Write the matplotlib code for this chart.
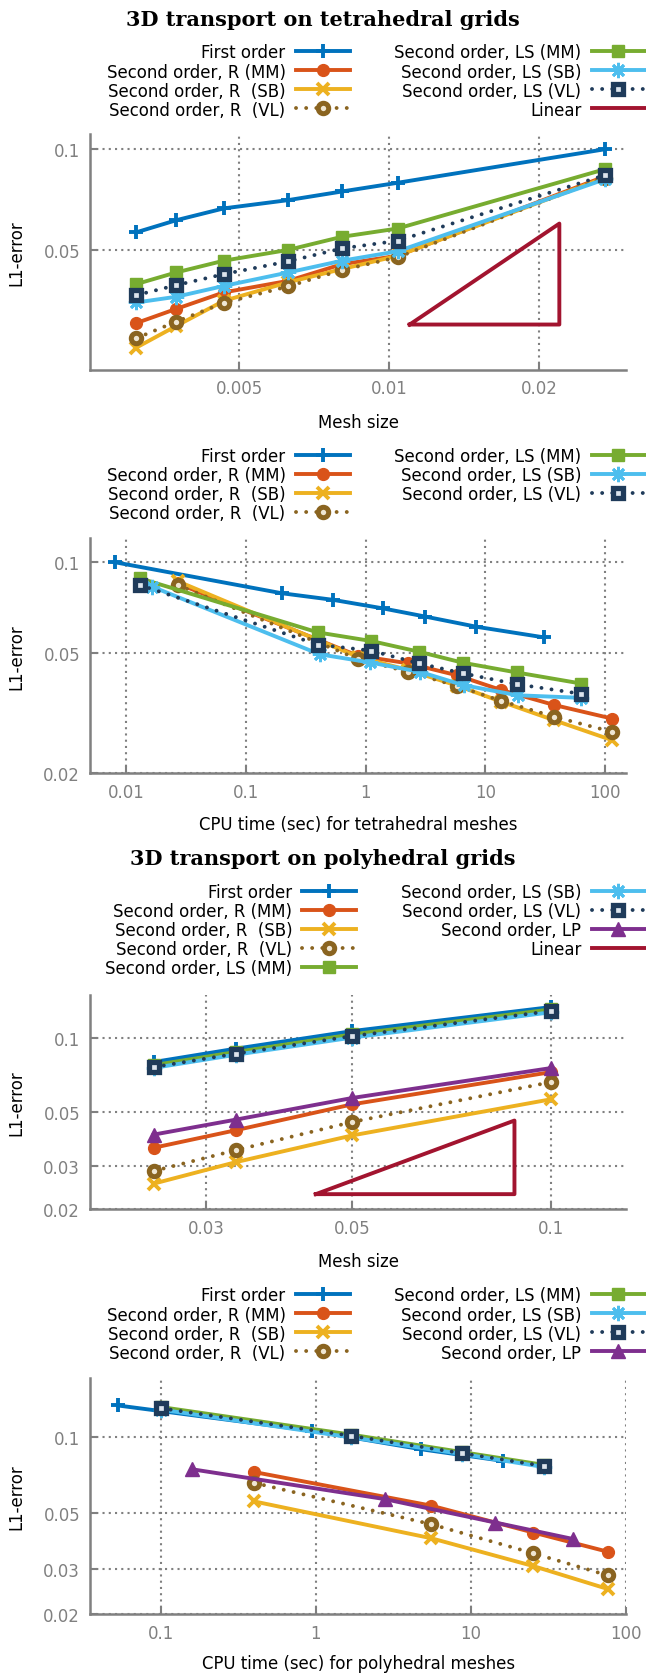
import matplotlib
matplotlib.use("Agg")
import matplotlib.pyplot as plt
import matplotlib.ticker as mticker
from matplotlib.font_manager import FontProperties

plt.rcParams['font.family'] = ['DejaVu Sans']
plt.rcParams['font.stretch'] = 'condensed'

# ---- colours (MATLAB-like palette used in the original) ----
c_first = '#0072BD'
c_rmm = '#D95319'
c_rsb = '#EDB120'
c_rvl = '#8A6420'
c_lsmm = '#77AC30'
c_lssb = '#4DBEEE'
c_lsvl = '#1F3B5A'
c_lp = '#7E2F8E'
c_lin = '#A2142F'

# ---- tetrahedral grids, error vs mesh size ----
tet_h = [0.0031, 0.00373, 0.00465, 0.00627, 0.00804, 0.0104, 0.0272]
tet_first = [0.0565, 0.0614, 0.0666, 0.0705, 0.0748, 0.0794, 0.100]
tet_rmm = [0.0303, 0.0334, 0.0374, 0.0405, 0.0454, 0.0481, 0.0830]
tet_rsb = [0.0256, 0.0297, 0.0353, 0.0401, 0.0439, 0.0481, 0.0823]
tet_rvl = [0.0273, 0.0306, 0.0348, 0.0390, 0.0436, 0.0476, 0.0823]
tet_lsmm = [0.0396, 0.0429, 0.0465, 0.0501, 0.0548, 0.0580, 0.0872]
tet_lssb = [0.0349, 0.0363, 0.0391, 0.0429, 0.0465, 0.0496, 0.0814]
tet_lsvl = [0.0367, 0.0393, 0.0424, 0.0463, 0.0506, 0.0533, 0.0837]
tet_lin_x = [0.011, 0.022, 0.022, 0.011]
tet_lin_y = [0.030, 0.030, 0.060, 0.030]

# ---- tetrahedral grids, error vs CPU time ----
tet_t_first = [0.00806, 0.1995, 0.537, 1.39, 3.16, 8.38, 31.0]
tet_t_r = [0.027, 0.86, 2.27, 5.77, 13.5, 37.7, 114.0]
tet_t_ls = [0.013, 0.40, 1.11, 2.78, 6.5, 18.2, 63.0]
tet_t_lssb = [0.0165, 0.414, 1.09, 2.84, 6.57, 18.6, 62.7]
tet_c_first = [0.100, 0.0789, 0.0750, 0.0703, 0.0660, 0.0611, 0.0563]
tet_c_rmm = [0.0850, 0.0490, 0.0462, 0.0422, 0.0377, 0.0336, 0.0303]
tet_c_rsb = [0.0865, 0.0486, 0.0439, 0.0390, 0.0345, 0.0299, 0.0257]
tet_c_rvl = [0.0840, 0.0478, 0.0433, 0.0389, 0.0347, 0.0307, 0.0274]
tet_c_lsmm = [0.0885, 0.0585, 0.0548, 0.0505, 0.0464, 0.0431, 0.0396]
tet_c_lssb = [0.0830, 0.0495, 0.0465, 0.0433, 0.0391, 0.0362, 0.0355]
tet_c_lsvl = [0.0841, 0.0533, 0.0509, 0.0462, 0.0428, 0.0394, 0.0366]

# ---- polyhedral grids, error vs mesh size ----
pol_h = [0.025, 0.0333, 0.05, 0.1]
pol_first = [0.0798, 0.0905, 0.1068, 0.1339]
pol_rmm = [0.0356, 0.0420, 0.0536, 0.0726]
pol_rsb = [0.0254, 0.0311, 0.0400, 0.0562]
pol_rvl = [0.0286, 0.0348, 0.0454, 0.0661]
pol_lsmm = [0.0775, 0.0877, 0.1035, 0.1310]
pol_lssb = [0.0755, 0.0855, 0.1005, 0.1275]
pol_lsvl = [0.0761, 0.0863, 0.1019, 0.1290]
pol_lp = [0.0403, 0.0464, 0.0569, 0.0754]
pol_lin_x = [0.044, 0.088, 0.088, 0.044]
pol_lin_y = [0.023, 0.023, 0.046, 0.023]

# ---- polyhedral grids, error vs CPU time ----
pol_t_first = [0.0533, 0.941, 4.75, 16.1]
pol_t_ls = [0.1, 1.68, 8.74, 29.3]
pol_t_r = [0.4, 5.53, 25.2, 76.0]
pol_t_lp = [0.16, 2.77, 14.3, 45.5]
pol_c_first = [0.1328, 0.1056, 0.0893, 0.0803]
pol_c_rmm = [0.0726, 0.0535, 0.0419, 0.0352]
pol_c_rsb = [0.0556, 0.0398, 0.0309, 0.0251]
pol_c_rvl = [0.0658, 0.0452, 0.0347, 0.0284]
pol_c_lsmm = [0.1310, 0.1020, 0.0870, 0.0775]
pol_c_lssb = [0.1280, 0.0995, 0.0855, 0.0760]
pol_c_lsvl = [0.1296, 0.1009, 0.0861, 0.0767]
pol_c_lp = [0.0744, 0.0568, 0.0459, 0.0395]

# line / marker styles for each series
lw = 2.8
dot = dict(linestyle=(0, (0.01, 2.6)), dash_capstyle='round')
sty = {
    'first': dict(color=c_first, marker='+', ms=10, mew=2.8, lw=lw),
    'rmm': dict(color=c_rmm, marker='o', ms=8.5, lw=lw),
    'rsb': dict(color=c_rsb, marker='x', ms=9, mew=2.8, lw=lw),
    'rvl': dict(color=c_rvl, marker='o', ms=7.5, mfc='#efe6d2', mec=c_rvl, mew=3.6, lw=lw, **dot),
    'lsmm': dict(color=c_lsmm, marker='s', ms=8.5, lw=lw),
    'lssb': dict(color=c_lssb, marker=(8, 2, 0), ms=11, mew=2.0, lw=lw),
    'lsvl': dict(color=c_lsvl, marker='s', ms=7.5, mfc='#dce5ee', mec=c_lsvl, mew=3.8, lw=lw, **dot),
    'lp': dict(color=c_lp, marker='^', ms=9.5, lw=lw),
    'lin': dict(color=c_lin, lw=lw),
}
names = {
    'first': 'First order',
    'rmm': 'Second order, R (MM)',
    'rsb': 'Second order, R  (SB)',
    'rvl': 'Second order, R  (VL)',
    'lsmm': 'Second order, LS (MM)',
    'lssb': 'Second order, LS (SB)',
    'lsvl': 'Second order, LS (VL)',
    'lp': 'Second order, LP',
    'lin': 'Linear',
}

W, H = 646, 1674
fig = plt.figure(figsize=(W / 100, H / 100), dpi=100)
gray = '#808080'
fs = 13.2


def make_ax(top, bottom, xlim, ylim, xticks, xlabs, yticks, ylabs, xlabel, xlab_y):
    left, right = 89.8, 626.3
    ax = fig.add_axes([left / W, 1 - bottom / H, (right - left) / W, (bottom - top) / H])
    ax.set_xscale('log')
    ax.set_yscale('log')
    ax.set_xlim(*xlim)
    ax.set_ylim(*ylim)
    ax.xaxis.set_major_locator(mticker.FixedLocator(xticks))
    ax.xaxis.set_major_formatter(mticker.FixedFormatter(xlabs))
    ax.yaxis.set_major_locator(mticker.FixedLocator(yticks))
    ax.yaxis.set_major_formatter(mticker.FixedFormatter(ylabs))
    ax.xaxis.set_minor_locator(mticker.NullLocator())
    ax.yaxis.set_minor_locator(mticker.NullLocator())
    for s in ['top', 'right']:
        ax.spines[s].set_visible(False)
    for s in ['left', 'bottom']:
        ax.spines[s].set_color(gray)
        ax.spines[s].set_linewidth(1.8)
    ax.tick_params(direction='in', length=5, width=1.5, color=gray, labelcolor=gray,
                   labelsize=fs, pad=7)
    ax.grid(True, color=gray, linestyle=(0, (1, 2)), linewidth=1.5)
    ax.set_axisbelow(True)
    ax.set_ylabel('L1-error', fontsize=fs)
    ax.yaxis.label.set_va('center')
    ax.yaxis.set_label_coords((16.5 - left) / (right - left), 0.5)
    ax.set_xlabel(xlabel, fontsize=fs)
    ax.xaxis.label.set_va('center')
    ax.xaxis.set_label_coords(0.5, -(xlab_y - bottom) / (bottom - top))
    return ax


def add_legend(ax, top_px):
    ax.legend(loc='upper right', bbox_to_anchor=(0.999, 1 - top_px / H),
              bbox_transform=fig.transFigure, ncol=2, markerfirst=False,
              frameon=False, prop=FontProperties(family='DejaVu Sans', stretch='condensed', size=fs),
              borderpad=0, borderaxespad=0,
              handlelength=2.93, handletextpad=0.56, columnspacing=2.44,
              labelspacing=0.06)


# panel 1
fig.text(0.5, 1 - 20 / H, '3D transport on tetrahedral grids', ha='center', va='center',
         family='DejaVu Serif', weight='bold', stretch='normal', fontsize=15)
ax1 = make_ax(135, 370.7, (0.0025, 0.030), (0.022, 0.111),
              [0.005, 0.01, 0.02], ['0.005', '0.01', '0.02'],
              [0.05, 0.1], ['0.05', '0.1'], 'Mesh size', 423)
ax1.plot(tet_h, tet_first, label=names['first'], **sty['first'])
ax1.plot(tet_h, tet_rmm, label=names['rmm'], **sty['rmm'])
ax1.plot(tet_h, tet_rsb, label=names['rsb'], **sty['rsb'])
ax1.plot(tet_h, tet_rvl, label=names['rvl'], **sty['rvl'])
ax1.plot(tet_h, tet_lsmm, label=names['lsmm'], **sty['lsmm'])
ax1.plot(tet_h, tet_lssb, label=names['lssb'], **sty['lssb'])
ax1.plot(tet_h, tet_lsvl, label=names['lsvl'], **sty['lsvl'])
ax1.plot(tet_lin_x, tet_lin_y, label=names['lin'], **sty['lin'])
add_legend(ax1, 44.5)

# panel 2
ax2 = make_ax(539.3, 774, (0.005, 150), (0.02, 0.12),
              [0.01, 0.1, 1, 10, 100], ['0.01', '0.1', '1', '10', '100'],
              [0.02, 0.05, 0.1], ['0.02', '0.05', '0.1'],
              'CPU time (sec) for tetrahedral meshes', 825)
ax2.plot(tet_t_first, tet_c_first, label=names['first'], **sty['first'])
ax2.plot(tet_t_r, tet_c_rmm, label=names['rmm'], **sty['rmm'])
ax2.plot(tet_t_r, tet_c_rsb, label=names['rsb'], **sty['rsb'])
ax2.plot(tet_t_r, tet_c_rvl, label=names['rvl'], **sty['rvl'])
ax2.plot(tet_t_ls, tet_c_lsmm, label=names['lsmm'], **sty['lsmm'])
ax2.plot(tet_t_lssb, tet_c_lssb, label=names['lssb'], **sty['lssb'])
ax2.plot(tet_t_ls, tet_c_lsvl, label=names['lsvl'], **sty['lsvl'])
add_legend(ax2, 448)

# panel 3
fig.text(0.5, 1 - 859 / H, '3D transport on polyhedral grids', ha='center', va='center',
         family='DejaVu Serif', weight='bold', stretch='normal', fontsize=15)
ax3 = make_ax(996, 1210, (0.02, 0.13), (0.02, 0.15),
              [0.03, 0.05, 0.1], ['0.03', '0.05', '0.1'],
              [0.02, 0.03, 0.05, 0.1], ['0.02', '0.03', '0.05', '0.1'],
              'Mesh size', 1262)
ax3.plot(pol_h, pol_first, label=names['first'], **sty['first'])
ax3.plot(pol_h, pol_rmm, label=names['rmm'], **sty['rmm'])
ax3.plot(pol_h, pol_rsb, label=names['rsb'], **sty['rsb'])
ax3.plot(pol_h, pol_rvl, label=names['rvl'], **sty['rvl'])
ax3.plot(pol_h, pol_lsmm, label=names['lsmm'], **sty['lsmm'])
ax3.plot(pol_h, pol_lssb, label=names['lssb'], **sty['lssb'])
ax3.plot(pol_h, pol_lsvl, label=names['lsvl'], **sty['lsvl'])
ax3.plot(pol_h, pol_lp, label=names['lp'], **sty['lp'])
ax3.plot(pol_lin_x, pol_lin_y, label=names['lin'], **sty['lin'])
add_legend(ax3, 884)

# panel 4
ax4 = make_ax(1379.3, 1615, (0.035, 100), (0.02, 0.17),
              [0.1, 1, 10, 100], ['0.1', '1', '10', '100'],
              [0.02, 0.03, 0.05, 0.1], ['0.02', '0.03', '0.05', '0.1'],
              'CPU time (sec) for polyhedral meshes', 1664)
ax4.plot(pol_t_first, pol_c_first, label=names['first'], **sty['first'])
ax4.plot(pol_t_r, pol_c_rmm, label=names['rmm'], **sty['rmm'])
ax4.plot(pol_t_r, pol_c_rsb, label=names['rsb'], **sty['rsb'])
ax4.plot(pol_t_r, pol_c_rvl, label=names['rvl'], **sty['rvl'])
ax4.plot(pol_t_ls, pol_c_lsmm, label=names['lsmm'], **sty['lsmm'])
ax4.plot(pol_t_ls, pol_c_lssb, label=names['lssb'], **sty['lssb'])
ax4.plot(pol_t_ls, pol_c_lsvl, label=names['lsvl'], **sty['lsvl'])
ax4.plot(pol_t_lp, pol_c_lp, label=names['lp'], **sty['lp'])
add_legend(ax4, 1287.5)

fig.savefig('out.png', dpi=100)
